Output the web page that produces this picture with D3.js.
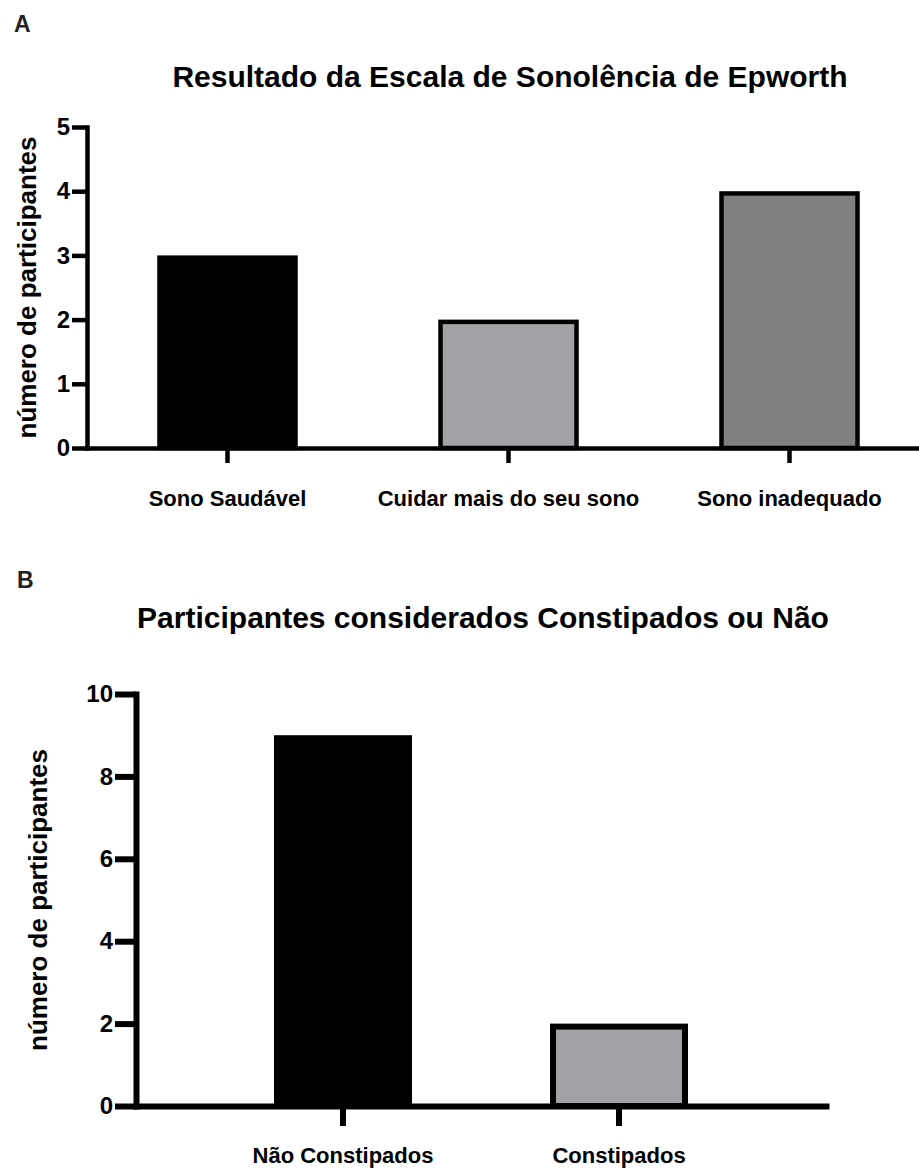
<!DOCTYPE html>
<html>
<head>
<meta charset="utf-8">
<script src="https://cdn.jsdelivr.net/npm/d3@7"></script>
<style>
  body { margin: 0; background: #fff; }
  text { font-family: "Liberation Sans", Arial, sans-serif; font-weight: bold; fill: #000; }
</style>
</head>
<body>
<div id="chart"></div>
<script>
// panel A - Epworth
var epworthCategories = ["Sono Saudável", "Cuidar mais do seu sono", "Sono inadequado"];
var epworthValues = [3, 2, 4];
var epworthTicks = [0, 1, 2, 3, 4, 5];

// panel B - constipation
var constipCategories = ["Não Constipados", "Constipados"];
var constipValues = [9, 2];
var constipTicks = [0, 2, 4, 6, 8, 10];

var width = 919;
var height = 1168;

var svg = d3.select("#chart").append("svg")
            .attr("width", width)
            .attr("height", height);

function drawPanel(p) {
  var g = svg.append("g");

  var x = d3.scaleBand()
            .domain(p.categories)
            .range(p.xRange)
            .paddingInner(0.5)
            .paddingOuter(p.padOuter);

  var y = d3.scaleLinear()
            .domain([0, d3.max(p.ticks)])
            .range(p.yRange);

  var sw = p.lw;

  // bars
  g.selectAll("rect.bar")
   .data(p.values)
   .enter()
   .append("rect")
   .attr("class", "bar")
   .attr("x", function(d, i) { return x(p.categories[i]) + sw / 2; })
   .attr("width", x.bandwidth() - sw)
   .attr("y", function(d) { return y(d) + sw / 2; })
   .attr("height", function(d) { return y(0) - y(d) - sw / 2; })
   .attr("fill", function(d, i) { return p.colors[i]; })
   .attr("stroke", "#000")
   .attr("stroke-width", sw);

  // y axis
  var yAxis = g.append("g")
               .attr("transform", "translate(" + p.xRange[0] + ",0)")
               .call(d3.axisLeft(y).tickValues(p.ticks).tickFormat(d3.format("d"))
                       .tickSize(p.yTick).tickSizeOuter(0).tickPadding(p.yPad));

  // x axis
  var xAxis = g.append("g")
               .attr("transform", "translate(0," + y(0) + ")")
               .call(d3.axisBottom(x).tickSize(p.xTick).tickSizeOuter(0).tickPadding(p.xPad));

  [yAxis, xAxis].forEach(function(a) {
    a.select(".domain").attr("stroke", "#000").attr("stroke-width", sw).attr("stroke-linecap", "square");
    a.selectAll(".tick line").attr("stroke", "#000").attr("stroke-width", sw);
    a.attr("font-family", null).attr("font-size", null);
  });
  yAxis.selectAll(".tick text").style("font-size", "24px");
  xAxis.selectAll(".tick text").style("font-size", "22px");

  // title
  g.append("text")
   .attr("x", p.titleX)
   .attr("y", p.titleY)
   .attr("text-anchor", "middle")
   .style("font-size", "30px")
   .text(p.title);

  // y label
  var yMid = (p.yRange[0] + p.yRange[1]) / 2;
  g.append("text")
   .attr("transform", "translate(" + p.yLabelX + "," + yMid + ") rotate(-90)")
   .attr("text-anchor", "middle")
   .style("font-size", "26px")
   .text("número de participantes");

  // panel letter
  g.append("text")
   .attr("x", p.letterX)
   .attr("y", p.letterY)
   .style("font-size", "23px")
   .style("fill", "#222")
   .text(p.letter);
}

drawPanel({
  categories: epworthCategories,
  values: epworthValues,
  ticks: epworthTicks,
  colors: ["#000000", "#a2a1a6", "#808080"],
  xRange: [87, 930],
  padOuter: 0.25,
  yRange: [448, 127],
  lw: 4.5,
  yTick: 15, yPad: 2,
  xTick: 15, xPad: 27,
  title: "Resultado da Escala de Sonolência de Epworth",
  titleX: 510, titleY: 87,
  yLabelX: 36,
  letter: "A", letterX: 14, letterY: 32
});

drawPanel({
  categories: constipCategories,
  values: constipValues,
  ticks: constipTicks,
  colors: ["#000000", "#a2a1a6"],
  xRange: [136, 826],
  padOuter: 0.5,
  yRange: [1106, 694],
  lw: 6,
  yTick: 21, yPad: 2,
  xTick: 20, xPad: 21,
  title: "Participantes considerados Constipados ou Não",
  titleX: 483, titleY: 628,
  yLabelX: 47,
  letter: "B", letterX: 17, letterY: 588
});
</script>
</body>
</html>
